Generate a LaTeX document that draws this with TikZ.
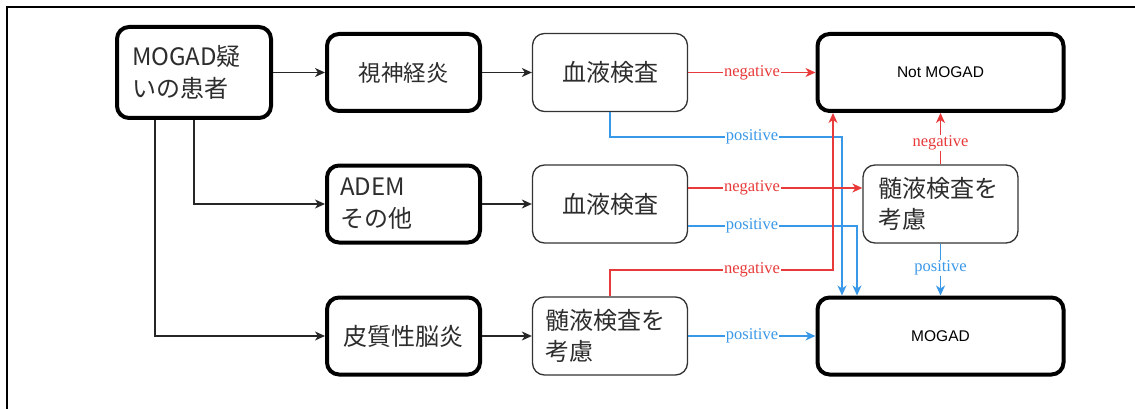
\documentclass[tikz,border=0pt]{standalone}
\usepackage{fontspec}
\setmainfont{Liberation Serif}
\newfontfamily\jpfont{Noto Sans CJK JP}
\newfontfamily\helvfont{Liberation Sans}
\usetikzlibrary{arrows.meta}

\newlength{\du}
\setlength{\du}{1pt}

\definecolor{negred}{RGB}{232,58,58}
\definecolor{posblue}{RGB}{58,152,232}
\definecolor{jptext}{RGB}{45,45,45}

\tikzset{
  thickbox/.style={draw=black,line width=4\du,rounded corners=12\du,fill=white,
    minimum width=153\du,minimum height=77\du,text=jptext,
    font=\jpfont\fontsize{24}{32}\selectfont},
  thinbox/.style={draw=black!80,line width=1.3\du,rounded corners=12\du,fill=white,
    minimum width=155\du,minimum height=78\du,text=jptext,
    font=\jpfont\fontsize{24}{31}\selectfont},
  endbox/.style={draw=black,line width=4\du,rounded corners=12\du,fill=white,
    minimum width=246\du,minimum height=77\du,
    font=\helvfont\fontsize{15.5}{18}\selectfont},
  flow/.style={line width=1.2\du,draw=black!85,-{Stealth[length=10pt,width=9pt,inset=3pt]}},
  negline/.style={flow,draw=negred},
  posline/.style={flow,draw=posblue},
  lbl/.style={fill=white,inner sep=1\du,font=\fontsize{16.5}{18}\selectfont},
}

\begin{document}
\begin{tikzpicture}
\pgftransformxscale{1.000000}
\pgftransformyscale{-1.000000}
\useasboundingbox (0\du,0\du) rectangle (1135\du,409\du);
\draw[line width=1.5\du] (7\du,409\du) -- (7\du,7\du) -- (1135\du,7\du);

% boxes
\node[thickbox,minimum width=154\du,minimum height=91\du,text width=124\du,align=left] (patient) at (194\du,72.5\du) {MOGAD疑\\いの患者};
\node[thickbox,font=\jpfont\fontsize{22.5}{30}\selectfont] (optic) at (403.5\du,72.5\du) {視神経炎};
\node[thickbox,text width=127\du,align=left] (adem) at (403.5\du,204\du) {ADEM\\その他};
\node[thickbox] (cortical) at (403.5\du,336\du) {皮質性脳炎};
\node[thinbox] (blood1) at (610\du,72.5\du) {血液検査};
\node[thinbox] (blood2) at (610\du,204\du) {血液検査};
\node[thinbox,text width=130\du,align=left] (csfleft) at (610\du,336\du) {髄液検査を\\考慮};
\node[thinbox,text width=124\du,align=left] (csfright) at (940.5\du,204\du) {髄液検査を\\考慮};
\node[endbox] (notmogad) at (940.5\du,72.5\du) {Not MOGAD};
\node[endbox] (mogad) at (940.5\du,336\du) {MOGAD};

% black connectors
\draw[flow] (patient) -- (optic);
\draw[flow] (patient.south) |- (adem);
\draw[flow] ([xshift=-39pt]patient.south) |- (cortical);
\draw[flow] (optic) -- (blood1);
\draw[flow] (adem) -- (blood2);
\draw[flow] (cortical) -- (csfleft);

% results
\coordinate (bendA) at (842\du,137\du);
\coordinate (bendB) at (833\du,270\du);
\coordinate (bendC) at (857\du,226\du);
\coordinate (bendD) at (700\du,188\du);
\draw[negline] (blood1) -- (notmogad);
\draw[posline] (blood1.south) |- (bendA) -- (bendA |- mogad.north);
\draw[negline] (blood2.east |- bendD) -- (csfright.west |- bendD);
\draw[posline] (blood2.east |- bendC) -- (bendC) -- (bendC |- mogad.north);
\draw[negline] (csfleft.north) |- (bendB) -- (bendB |- notmogad.south);
\draw[posline] (csfleft) -- (mogad);
\draw[negline] (csfright) -- (notmogad);
\draw[posline] (csfright) -- (mogad);

\node[lbl,text=negred] (neg1) at (752\du,72.5\du) {negative};
\node[lbl,text=posblue] (pos1) at (752\du,137\du) {positive};
\node[lbl,text=negred] (neg2) at (752\du,188\du) {negative};
\node[lbl,text=posblue] (pos2) at (752\du,226\du) {positive};
\node[lbl,text=negred] (neg3) at (752\du,270\du) {negative};
\node[lbl,text=posblue] (pos3) at (752\du,336\du) {positive};
\node[lbl,text=negred] (neg4) at (940.5\du,143\du) {negative};
\node[lbl,text=posblue] (pos4) at (940.5\du,268\du) {positive};
\end{tikzpicture}
\end{document}
